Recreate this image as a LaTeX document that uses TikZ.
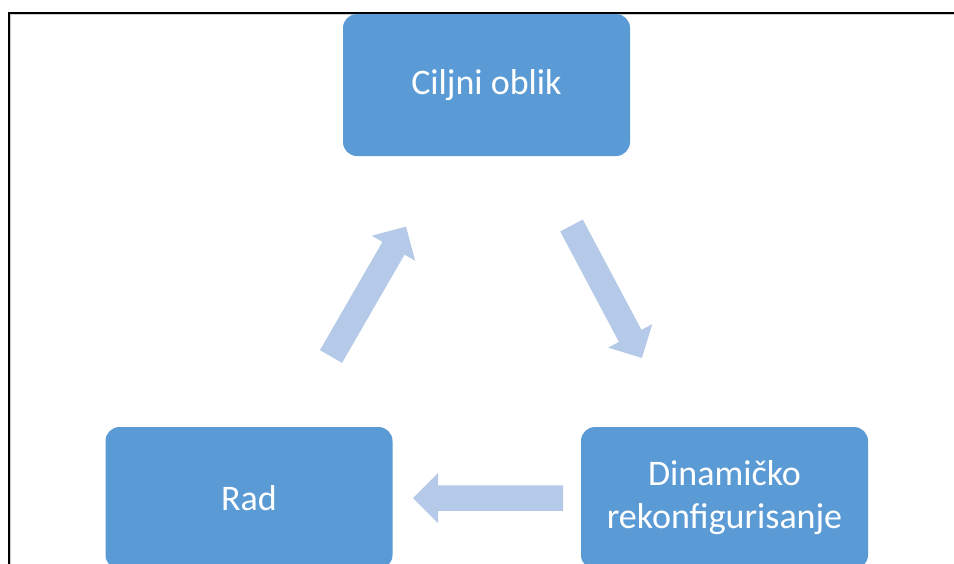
\documentclass[tikz,border=0pt]{standalone}
\usepackage{fontspec}
\setmainfont{Carlito}
\definecolor{boxblue}{HTML}{5B9BD5}
\definecolor{flowblue}{HTML}{B4CAE8}
\definecolor{rimgray}{HTML}{CCCCCC}
\tikzset{
  stage/.style={rectangle, rounded corners=14pt, fill=boxblue, draw=none,
    minimum width=287pt, minimum height=142pt, inner sep=0pt,
    text=white, align=center, font=\fontsize{36}{43}\selectfont},
  flow/.pic={\fill[flowblue] (0,-12.75) -- (125,-12.75) -- (125,-25) -- (150,0)
      -- (125,25) -- (125,12.75) -- (0,12.75) -- cycle;}
}
\begin{document}
\begin{tikzpicture}[x=1pt, y=-1pt]
  \useasboundingbox (0,0) rectangle (954,563);
  \clip (0,0) rectangle (954,563);
  \fill[white] (0,0) rectangle (954,563);
  % slide frame
  \draw[rimgray, line width=1pt] (10.5,570) -- (10.5,14.5) -- (960,14.5);
  \draw[black, line width=2.5pt] (8.75,570) -- (8.75,12.75) -- (960,12.75);
  % stages of the cycle
  \node[stage] (cilj) at (486.5,85) {Ciljni oblik};
  \node[stage] (dina) at (724.5,498) {Dinamičko\\rekonfigurisanje};
  \node[stage] (rad)  at (249,498)   {Rad};
  % block arrows between the stages
  \coordinate (t1) at (331,356.5);
  \coordinate (t2) at (571.5,225.5);
  \coordinate (t3) at (563,498);
  \pic[rotate=60]  at (t1) {flow};
  \pic[rotate=-62] at (t2) {flow};
  \pic[rotate=180] at (t3) {flow};
\end{tikzpicture}
\end{document}
